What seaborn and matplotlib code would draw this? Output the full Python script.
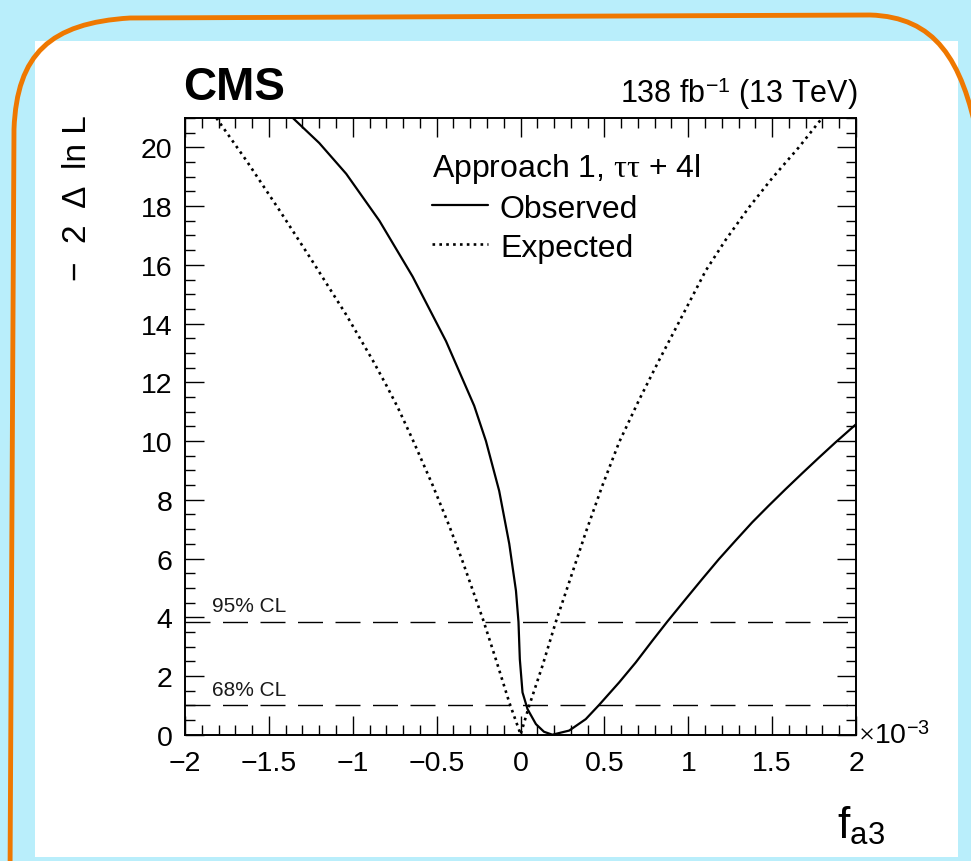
import numpy as np
import pandas as pd
import matplotlib
matplotlib.use("Agg")
import matplotlib.pyplot as plt
import matplotlib.transforms as mtransforms
from matplotlib.path import Path
from matplotlib.patches import PathPatch, Rectangle
from matplotlib.ticker import MultipleLocator
import seaborn as sns

# ---------------- data, f_a3 in units of 1e-3 ----------------
obs_x = [-1.357, -1.20, -1.039, -0.841, -0.643, -0.444, -0.276, -0.206, -0.127,
         -0.067, -0.027, -0.012, -0.004, 0.012, 0.042, 0.092, 0.14, 0.19,
         0.29, 0.389, 0.468, 0.588, 0.687, 0.786, 0.875, 0.985, 1.083, 1.183,
         1.282, 1.381, 1.48, 1.58, 1.679, 1.778, 1.877, 2.0]
obs_y = [21.0, 20.15, 19.1, 17.5, 15.6, 13.4, 11.2, 10.0, 8.3,
         6.5, 4.9, 3.84, 2.57, 1.44, 0.87, 0.36, 0.10, 0.0,
         0.14, 0.53, 1.01, 1.78, 2.46, 3.2, 3.85, 4.62, 5.30, 5.98,
         6.61, 7.23, 7.8, 8.36, 8.9, 9.43, 9.95, 10.57]

exp_x = [-1.813, -1.634, -1.436, -1.238, -1.039, -0.881, -0.80, -0.732, -0.643,
         -0.524, -0.424, -0.345, -0.222, -0.146, -0.067, -0.008, 0.0,
         0.052, 0.131, 0.211, 0.29, 0.389, 0.488, 0.588, 0.707, 0.826, 0.985,
         1.104, 1.223, 1.361, 1.5, 1.659, 1.798]
exp_y = [21.0, 19.55, 17.85, 16.1, 14.3, 12.75, 11.9, 11.15, 10.05,
         8.5, 7.1, 5.9, 3.9, 2.55, 1.1, 0.15, 0.0,
         0.99, 2.35, 3.85, 5.19, 6.89, 8.48, 9.96, 11.4, 12.75, 14.49,
         15.8, 16.85, 17.95, 18.95, 20.0, 21.0]

cl_levels = [1.0, 3.84]
cl_labels = ["68% CL", "95% CL"]

x_ticks = [-2, -1.5, -1, -0.5, 0, 0.5, 1, 1.5, 2]
x_tick_labels = ["\u22122", "\u22121.5", "\u22121", "\u22120.5", "0", "0.5", "1", "1.5", "2"]
y_ticks = [0, 2, 4, 6, 8, 10, 12, 14, 16, 18, 20]

series_labels = ["Observed", "Expected"]
legend_title = r"Approach 1, $\mathrm{\tau\tau}$ + 4l"

df_obs = pd.DataFrame({"fa3": obs_x, "nll": obs_y})
df_exp = pd.DataFrame({"fa3": exp_x, "nll": exp_y})

# ---------------- style ----------------
sns.set_theme(style="ticks")
plt.rcParams["font.family"] = ["Liberation Sans", "DejaVu Sans"]
plt.rcParams["mathtext.fontset"] = "custom"
plt.rcParams["mathtext.rm"] = "Liberation Serif"
plt.rcParams["mathtext.it"] = "Liberation Serif:italic"
plt.rcParams["mathtext.bf"] = "Liberation Serif:bold"
plt.rcParams["axes.unicode_minus"] = True
for k in ["text.color", "axes.labelcolor", "xtick.color", "ytick.color", "axes.edgecolor"]:
    plt.rcParams[k] = "black"

BG = "#b9eefb"
ORANGE = "#ef7800"
W, H = 971, 862

fig = plt.figure(figsize=(W / 100, H / 100), dpi=100, facecolor=BG)

# white panel
fig.patches.append(Rectangle((35 / W, 1 - 858 / H), 923 / W, 816 / H,
                             transform=fig.transFigure, facecolor="white",
                             edgecolor="none", zorder=-1))

ax = fig.add_axes([185 / W, 1 - 735.7 / H, 671 / W, 616.7 / H])
ax.set_facecolor("white")

sns.lineplot(data=df_obs, x="fa3", y="nll", ax=ax, color="black", lw=1.6,
             estimator=None, sort=False, label=series_labels[0])
sns.lineplot(data=df_exp, x="fa3", y="nll", ax=ax, color="black", lw=1.9,
             linestyle=(0, (1.0, 1.6)), estimator=None, sort=False,
             label=series_labels[1])

for lvl, lab in zip(cl_levels, cl_labels):
    ax.axhline(lvl, color="black", lw=1.0, linestyle=(0, (18, 9)), zorder=1)
    ax.text(-1.84, lvl + 0.22, lab, fontsize=15, ha="left", va="bottom",
            color="#1a1a1a")

ax.set_xlim(-2, 2)
ax.set_ylim(0, 21)
ax.set_xticks(x_ticks, labels=x_tick_labels)
ax.set_yticks(y_ticks)
ax.xaxis.set_minor_locator(MultipleLocator(0.1))
ax.yaxis.set_minor_locator(MultipleLocator(0.5))
ax.tick_params(which="both", direction="in", top=True, right=True,
               width=1.0, color="black")
ax.tick_params(which="major", length=13.5, labelsize=20.5)
ax.tick_params(axis="x", which="major", pad=11)
ax.tick_params(axis="y", which="major", pad=9)
ax.tick_params(which="minor", length=7)
for sp in ax.spines.values():
    sp.set_linewidth(1.4)
    sp.set_color("black")

ax.set_xlabel("")
ax.set_ylabel("\u2212  2  \u0394  ln L", fontsize=24, loc="top")
ax.yaxis.set_label_coords(-0.137, 1.006)

ax.text(0.972, -0.166, r"f$_{\mathregular{a3}}$", transform=ax.transAxes,
        fontsize=32, ha="left", va="baseline")
ax.text(1.003, 0.0, r"$\times$10$^{\mathregular{-3}}$", transform=ax.transAxes,
        fontsize=20.5, ha="left", va="center")

ax.text(-0.003, 1.031, "CMS", transform=ax.transAxes, fontsize=33,
        fontweight="bold", ha="left", va="baseline")
ax.text(1.002, 1.026, r"138 fb$^{\mathregular{-1}}$ (13 TeV)", transform=ax.transAxes,
        fontsize=22, ha="right", va="baseline")

leg = ax.legend(title=legend_title, loc="upper left",
                bbox_to_anchor=(0.368, 0.947), frameon=False, fontsize=23,
                title_fontsize=23, handlelength=1.75, handletextpad=0.38,
                labelspacing=0.28, borderpad=0, borderaxespad=0,
                alignment="left")

# hand-drawn orange frame (pixel coordinates)
to_fig = mtransforms.Affine2D().scale(1 / W, -1 / H).translate(0, 1) + fig.transFigure
verts = [(10, 880), (14, 130),
         (17, 55), (50, 24), (130, 19),
         (870, 16),
         (935, 18), (962, 60), (978, 140),
         (990, 880)]
codes = [Path.MOVETO, Path.LINETO,
         Path.CURVE4, Path.CURVE4, Path.CURVE4,
         Path.LINETO,
         Path.CURVE4, Path.CURVE4, Path.CURVE4,
         Path.LINETO]
frame = PathPatch(Path(verts, codes), transform=to_fig, facecolor="none",
                  edgecolor=ORANGE, lw=3.5, zorder=5, capstyle="round",
                  joinstyle="round")
fig.patches.append(frame)

fig.savefig("out.png", dpi=100, facecolor=BG)
